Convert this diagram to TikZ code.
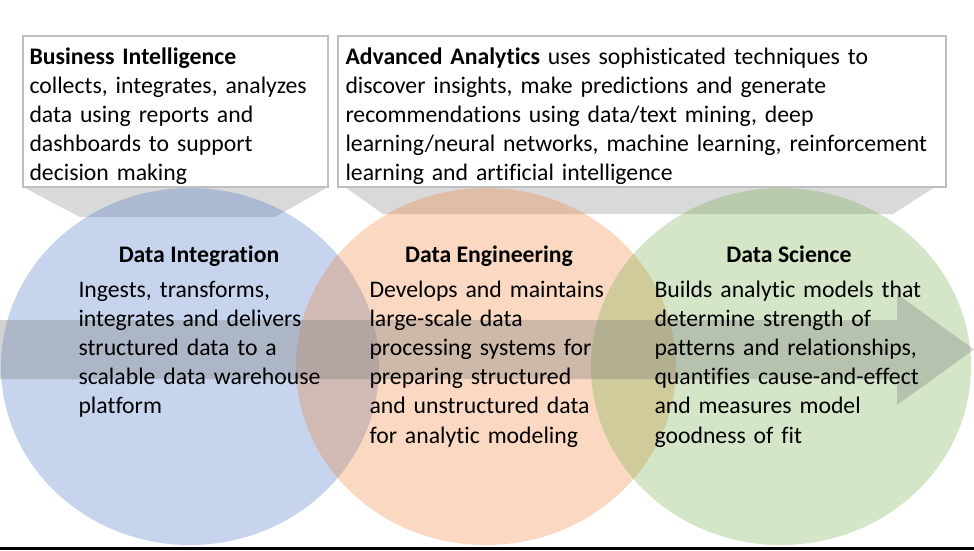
\documentclass[tikz,border=0pt]{standalone}
\usepackage{fontspec}
\setmainfont{Carlito}[RawFeature={-liga;-clig;-calt}]
\usetikzlibrary{positioning}
\frenchspacing

\definecolor{diblue}{HTML}{4472C4}
\definecolor{deorange}{HTML}{ED7D31}
\definecolor{dsgreen}{HTML}{70AD47}
\definecolor{pointgray}{HTML}{D9D9D9}
\definecolor{arrowgray}{HTML}{7F7F7F}
\definecolor{boxline}{HTML}{BFBFBF}

\tikzset{every picture/.style={line width=0.75pt},
  venn/.style={fill opacity=0.3},
  calloutbox/.style={draw=boxline, line width=0.9pt, fill=white},
  bodytext/.style={anchor=base west, inner sep=0pt, align=left, text width=470pt,
    font=\fontsize{17.8}{21.9}\selectfont},
  headtext/.style={anchor=base, inner sep=0pt, font=\fontsize{17.8}{21.9}\selectfont\bfseries},
}

\begin{document}
\begin{tikzpicture}[x=0.75pt,y=0.75pt,yscale=-1,xscale=1]
\useasboundingbox (0,0) rectangle (974,550);

%Shape: Callout pointers
\fill [pointgray] (23,187) -- (328,187) -- (275,217) -- (80,217) -- cycle ;
\fill [pointgray] (345,187) -- (935,187) -- (893,214) -- (383,214) -- cycle ;

%Shape: Circles
\fill [diblue, venn] (190,366.5) ellipse [x radius=189, y radius=178.5] ;
\fill [deorange, venn] (486,366.5) ellipse [x radius=190, y radius=178.5] ;
\fill [dsgreen, venn] (781,366.5) ellipse [x radius=190, y radius=178.5] ;

%Shape: Right Arrow
\fill [arrowgray, fill opacity=0.35] (0,320) -- (897,320) -- (897,294) -- (974,349.5) -- (897,405) -- (897,379) -- (0,379) -- cycle ;

%Shape: Rectangles
\draw [calloutbox] (23,36) rectangle (328,187) ;
\draw [calloutbox] (338,36) rectangle (946,187) ;

%Straight Lines
\fill (0,547) rectangle (974,550) ;

% Text Node
\node [bodytext] (bitext) at (29,64) {\textbf{Business Intelligence}\\ collects, integrates, analyzes\\ data using reports and\\ dashboards to support\\ decision making};
% Text Node
\node [bodytext] (aatext) at (345,64) {\textbf{Advanced Analytics} uses sophisticated techniques to\\ discover insights, make predictions and generate\\ recommendations using data/text mining, deep\\ learning/neural networks, machine learning, reinforcement\\ learning and artificial intelligence};

% Text Node
\node [headtext] (dihead) at (199,262) {Data Integration};
\node [bodytext] (dibody) at (78,297) {Ingests, transforms,\\ integrates and delivers\\ structured data to a\\ scalable data warehouse\\ platform};
% Text Node
\node [headtext] (dehead) at (489,262) {Data Engineering};
\node [bodytext] (debody) at (369,297) {Develops and maintains\\ large-scale data\\ processing systems for\\ preparing structured\\ and unstructured data\\ for analytic modeling};
% Text Node
\node [headtext] (dshead) at (789,262) {Data Science};
\node [bodytext] (dsbody) at (654,297) {Builds analytic models that\\ determine strength of\\ patterns and relationships,\\ quantifies cause-and-effect\\ and measures model\\ goodness of fit};

\end{tikzpicture}
\end{document}
